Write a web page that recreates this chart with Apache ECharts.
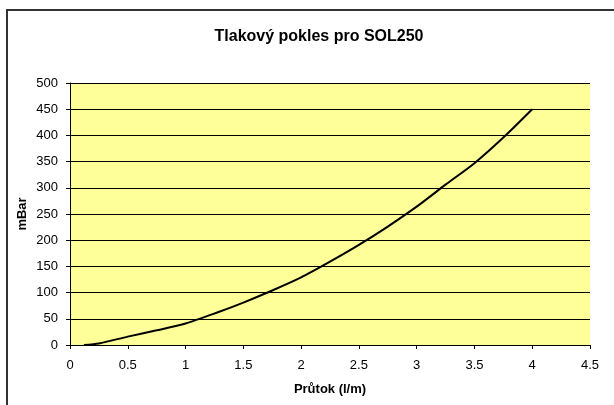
<!DOCTYPE html>
<html>
<head>
<meta charset="utf-8">
<script src="https://cdn.jsdelivr.net/npm/echarts@6/dist/echarts.min.js"></script>
<style>
  html, body { margin: 0; padding: 0; background: #fff; }
  #chart { width: 614px; height: 405px; }
</style>
</head>
<body>
<div id="chart"></div>
<script>
// průtok (l/m) a tlakový pokles (mBar)
const flow = [0.12, 0.25, 0.5, 0.75, 1.0, 1.25, 1.5, 1.75, 2.0, 2.25, 2.5, 2.75, 3.0, 3.25, 3.5, 3.75, 4.0];
const pressure = [0, 3, 16, 28, 41, 60, 81, 104, 129, 159, 191, 226, 264, 306, 347, 396, 450];

const font = "'Liberation Sans', Arial, sans-serif";

const chart = echarts.init(document.getElementById("chart"));

const option = {
  backgroundColor: "#fff",
  animation: false,
  title: {
    text: "Tlakový pokles pro SOL250",
    left: 314,
    top: 24,
    textAlign: "center",
    textStyle: { fontFamily: font, fontSize: 16, fontWeight: "bold", color: "#000" }
  },
  graphic: [
    {
      type: "rect",
      shape: { x: 7, y: 10, width: 700, height: 500 },
      style: { fill: null, stroke: "#333", lineWidth: 2 },
      silent: true
    }
  ],
  grid: {
    left: 70,
    top: 83,
    right: 24,
    bottom: 60,
    show: true,
    backgroundColor: "#FFFF99",
    borderWidth: 0
  },
  xAxis: {
    type: "value",
    min: 0,
    max: 4.5,
    interval: 0.5,
    name: "Průtok (l/m)",
    nameLocation: "middle",
    nameGap: 38,
    nameMoveOverlap: false,
    nameTextStyle: { fontFamily: font, fontSize: 13, fontWeight: "bold", color: "#000" },
    axisLine: { show: true, lineStyle: { color: "#000", width: 1 } },
    axisTick: { show: true, length: 4, lineStyle: { color: "#000" } },
    axisLabel: { fontFamily: font, fontSize: 13, color: "#000", margin: 14 },
    splitLine: { show: false }
  },
  yAxis: {
    type: "value",
    min: 0,
    max: 500,
    interval: 50,
    name: "mBar",
    nameLocation: "middle",
    nameGap: 41,
    nameMoveOverlap: false,
    nameTextStyle: { fontFamily: font, fontSize: 13, fontWeight: "bold", color: "#000" },
    axisLine: { show: true, lineStyle: { color: "#000", width: 1 } },
    axisTick: { show: true, length: 4, lineStyle: { color: "#000" } },
    axisLabel: { fontFamily: font, fontSize: 13, color: "#000", margin: 12 },
    splitLine: { show: true, lineStyle: { color: "#000", width: 1 } }
  },
  series: [
    {
      type: "line",
      data: flow.map((x, i) => [x, pressure[i]]),
      smooth: 0.25,
      showSymbol: false,
      lineStyle: { color: "#000", width: 2 }
    }
  ]
};

chart.setOption(option);
</script>
</body>
</html>
